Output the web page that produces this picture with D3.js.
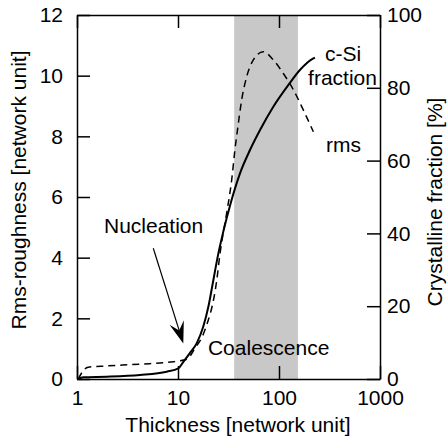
<!DOCTYPE html>
<meta charset="utf-8">
<script src="https://d3js.org/d3.v7.min.js"></script>
<style>
body { margin: 0; background: #fff; }
svg { display: block; font-family: "Liberation Sans", Arial, sans-serif; }
.axis path, .axis line { stroke: #000; stroke-width: 1.5; }
.axis text { font-size: 21px; fill: #000; }
.lbl { font-size: 21px; fill: #000; }
</style>
<body>
<div class="chart"></div>
<script>

// thickness ticks and band
var xTicks = [1, 10, 100, 1000];
var rmsTicks = [0, 2, 4, 6, 8, 10, 12];
var fracTicks = [0, 20, 40, 60, 80, 100];
var coalescence = [36, 154];

// rms roughness (dashed, left axis)
var rmsX = [1.03, 1.17, 1.29, 1.97, 4.2, 8.98, 12.2, 14.7, 18.5, 24.2, 26.1, 30.3, 34.0, 36.6, 39.6, 42.7, 47.9, 55.7, 69.9, 87.8, 110, 139, 174, 219];
var rmsY = [0, 0.3, 0.39, 0.43, 0.49, 0.57, 0.65, 1.01, 1.62, 3.26, 4.15, 5.46, 6.56, 7.55, 8.43, 9.2, 9.97, 10.52, 10.79, 10.52, 10.08, 9.53, 8.87, 8.15];

// c-Si fraction in % (solid, right axis)
var fracX = [1.03, 1.15, 1.97, 4.2, 7.73, 10.07, 11.3, 13.1, 15.3, 17.8, 20.0, 22.4, 25.1, 28.1, 32.7, 41.1, 51.6, 64.9, 87.8, 124, 161, 219, 227];
var fracY = [0, 0.47, 0.63, 1.1, 2.0, 2.9, 4.7, 7.1, 9.8, 14.4, 19.9, 27.2, 34.5, 40.5, 47.6, 56.5, 62.9, 68.4, 74.8, 80.8, 84.9, 88.1, 88.3];

// annotations: [text, thickness, rms]
var notes = [
  ["Nucleation", 1.85, 4.81],
  ["Coalescence", 19.8, 0.79],
  ["c-Si", 285, 10.48],
  ["fraction", 194, 9.69],
  ["rms", 292, 7.48]
];
var arrowFrom = [5.69, 4.31], arrowTo = [11.28, 1.17];

var margin = {top: 15, right: 67, bottom: 61, left: 77},
    width = 447 - margin.left - margin.right,
    height = 440 - margin.top - margin.bottom;

var svg = d3.select(".chart").append("svg")
    .attr("width", 447)
    .attr("height", 440);
var g = svg.append("g")
    .attr("transform", "translate(" + margin.left + "," + margin.top + ")");

var x = d3.scaleLog().domain([1, 1000]).range([0, width]);
var yL = d3.scaleLinear().domain([0, 12]).range([height, 0]);
var yR = d3.scaleLinear().domain([0, 100]).range([height, 0]);

// grey coalescence band
g.append("rect")
    .attr("x", x(coalescence[0]))
    .attr("y", 0)
    .attr("width", x(coalescence[1]) - x(coalescence[0]))
    .attr("height", height)
    .attr("fill", "#c8c8c8");

// axes, ticks pointing inward
g.append("g").attr("class", "axis")
    .attr("transform", "translate(0," + height + ")")
    .call(d3.axisBottom(x).tickValues(xTicks).tickFormat(d3.format("d"))
      .tickSizeInner(-13).tickSizeOuter(0).tickPadding(11));
g.append("g").attr("class", "axis")
    .call(d3.axisTop(x).tickValues(xTicks).tickFormat("")
      .tickSizeInner(-13).tickSizeOuter(0));
g.append("g").attr("class", "axis")
    .call(d3.axisLeft(yL).tickValues(rmsTicks)
      .tickSizeInner(-13).tickSizeOuter(0).tickPadding(14));
g.append("g").attr("class", "axis")
    .attr("transform", "translate(" + width + ",0)")
    .call(d3.axisRight(yR).tickValues(fracTicks)
      .tickSizeInner(-13).tickSizeOuter(0).tickPadding(7));
g.selectAll(".axis text").attr("font-family", null).attr("font-size", null);

// curves
var rmsLine = d3.line()
    .x(function(d, i) { return x(rmsX[i]); })
    .y(function(d) { return yL(d); })
    .curve(d3.curveMonotoneX);
var fracLine = d3.line()
    .x(function(d, i) { return x(fracX[i]); })
    .y(function(d) { return yR(d); })
    .curve(d3.curveMonotoneX);

g.append("path")
    .attr("d", rmsLine(rmsY))
    .attr("fill", "none")
    .attr("stroke", "#000")
    .attr("stroke-width", 1.5)
    .attr("stroke-dasharray", "7,5");
g.append("path")
    .attr("d", fracLine(fracY))
    .attr("fill", "none")
    .attr("stroke", "#000")
    .attr("stroke-width", 2);

// annotation texts
g.selectAll(".note")
    .data(notes)
    .enter().append("text")
    .attr("class", "lbl")
    .attr("x", function(d) { return x(d[1]); })
    .attr("y", function(d) { return yL(d[2]); })
    .text(function(d) { return d[0]; });

// nucleation arrow
var ax0 = x(arrowFrom[0]), ay0 = yL(arrowFrom[1]),
    ax1 = x(arrowTo[0]), ay1 = yL(arrowTo[1]);
var len = Math.hypot(ax1 - ax0, ay1 - ay0),
    ux = (ax1 - ax0) / len, uy = (ay1 - ay0) / len,
    nx = -uy, ny = ux,
    L = 22, W = 7.5;
g.append("line")
    .attr("x1", ax0).attr("y1", ay0)
    .attr("x2", ax1 - ux * L * 0.6).attr("y2", ay1 - uy * L * 0.6)
    .attr("stroke", "#000").attr("stroke-width", 1.2);
g.append("path")
    .attr("d", "M" + ax1 + "," + ay1 +
      "L" + (ax1 - ux * L + nx * W) + "," + (ay1 - uy * L + ny * W) +
      "L" + (ax1 - ux * L * 0.62) + "," + (ay1 - uy * L * 0.62) +
      "L" + (ax1 - ux * L - nx * W) + "," + (ay1 - uy * L - ny * W) + "Z")
    .attr("fill", "#000");

// axis titles
svg.append("text")
    .attr("class", "lbl")
    .attr("x", 238).attr("y", 432)
    .attr("text-anchor", "middle")
    .text("Thickness [network unit]");
svg.append("text")
    .attr("class", "lbl")
    .attr("transform", "translate(26,190) rotate(-90)")
    .attr("text-anchor", "middle")
    .text("Rms-roughness [network unit]");
svg.append("text")
    .attr("class", "lbl")
    .attr("transform", "translate(442,202) rotate(-90)")
    .attr("text-anchor", "middle")
    .text("Crystalline fraction [%]");

</script>
</body>
</html>
